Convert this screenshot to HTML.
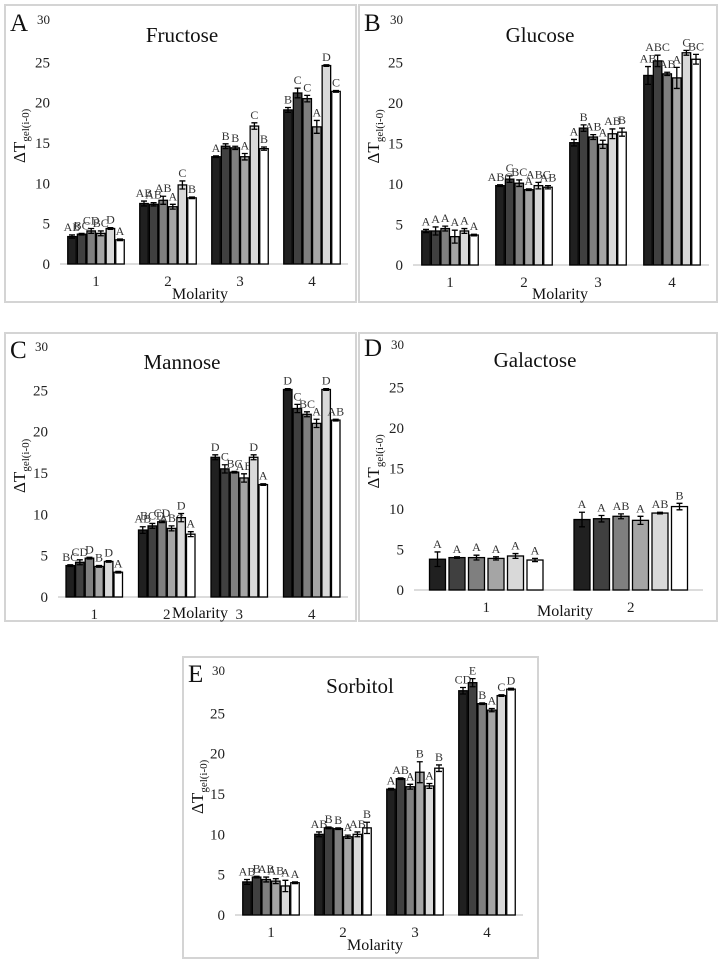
<!DOCTYPE html>
<html><head><meta charset="utf-8">
<style>
html,body{margin:0;padding:0;background:#fff;}
svg{display:block;font-family:"Liberation Serif",serif;}
</style></head>
<body>
<svg id="fig" width="721" height="963" viewBox="0 0 721 963" xmlns="http://www.w3.org/2000/svg"></svg>
<script>
const molarityA = ["1","2","3","4"];
const fructoseVals = [[3.4,3.7,4.1,3.8,4.4,3.0],[7.5,7.4,7.9,7.1,9.8,8.2],[13.3,14.6,14.4,13.3,17.1,14.3],[19.1,21.2,20.5,17.0,24.6,21.4]];
const fructoseErr = [[0.2,0.1,0.3,0.3,0.1,0.1],[0.3,0.2,0.5,0.3,0.5,0.1],[0.1,0.3,0.2,0.4,0.4,0.2],[0.3,0.6,0.4,0.8,0.1,0.1]];
const fructoseLbl = [["AB","BC","CD","BC","D","A"],["AB","AB","AB","A","C","B"],["A","B","B","A","C","B"],["B","C","C","A","D","C"]];
const glucoseVals = [[4.2,4.2,4.5,3.5,4.2,3.7],[9.8,10.6,10.1,9.3,9.8,9.6],[15.1,16.9,15.8,14.9,16.2,16.4],[23.4,25.2,23.6,23.1,26.2,25.4]];
const glucoseErr = [[0.2,0.5,0.3,0.8,0.3,0.1],[0.1,0.4,0.4,0.1,0.4,0.2],[0.4,0.4,0.3,0.5,0.6,0.5],[1.1,0.7,0.2,1.3,0.3,0.6]];
const glucoseLbl = [["A","A","A","A","A","A"],["ABC","C","BC","A","ABC","AB"],["A","B","AB","A","AB","B"],["AB","ABC","AB","A","C","BC"]];
const mannoseVals = [[3.8,4.2,4.7,3.7,4.3,3.0],[8.1,8.6,9.1,8.3,9.6,7.6],[16.9,15.5,15.1,14.4,16.9,13.6],[25.1,22.8,22.1,21.0,25.1,21.4]];
const mannoseErr = [[0.1,0.3,0.1,0.1,0.1,0.1],[0.4,0.3,0.1,0.3,0.5,0.3],[0.3,0.5,0.1,0.5,0.3,0.1],[0.1,0.5,0.3,0.5,0.1,0.1]];
const mannoseLbl = [["BC","CD","D","B","D","A"],["AB","BCD","CD","ABC","D","A"],["D","C","BC","AB","D","A"],["D","C","BC","A","D","AB"]];
const molarityD = ["1","2"];
const galactoseVals = [[3.8,4.0,4.0,3.9,4.2,3.7],[8.7,8.8,9.1,8.6,9.5,10.3]];
const galactoseErr = [[0.9,0.1,0.3,0.2,0.3,0.2],[0.9,0.4,0.3,0.5,0.1,0.4]];
const galactoseLbl = [["A","A","A","A","A","A"],["A","A","AB","A","AB","B"]];
const sorbitolVals = [[4.1,4.7,4.4,4.2,3.6,4.0],[10.0,10.8,10.7,9.7,10.0,10.8],[15.6,16.9,15.9,17.7,16.0,18.2],[27.8,28.8,26.2,25.4,27.2,28.0]];
const sorbitolErr = [[0.3,0.1,0.3,0.3,0.7,0.1],[0.3,0.1,0.1,0.2,0.3,0.7],[0.1,0.1,0.3,1.3,0.3,0.4],[0.4,0.5,0.1,0.2,0.1,0.1]];
const sorbitolLbl = [["AB","B","AB","AB","A","A"],["AB","B","B","A","AB","B"],["A","AB","A","B","A","B"],["CD","E","B","A","C","D"]];
const yTicks = [0,5,10,15,20,25,30];
const fills = ["#202020","#404040","#7f7f7f","#a5a5a5","#d9d9d9","#ffffff"];

const NS="http://www.w3.org/2000/svg";
const svg=document.getElementById('fig');
function mk(tag,attrs,parent,text){const e=document.createElementNS(NS,tag);for(const k in attrs)e.setAttribute(k,attrs[k]);if(text!==undefined)e.textContent=text;(parent||svg).appendChild(e);return e;}

function panel(cfg,cats,vals,errs,lbls){
  const g=mk('g',{});
  
  
  const box=mk('rect',{x:cfg.box[0],y:cfg.box[1],width:cfg.box[2],height:cfg.box[3],fill:'#fff',stroke:'#d4d4d4','stroke-width':2},g);
  
  
  const yS=v=>cfg.y0-(cfg.y0-cfg.y30)*v/30;
  const gw=(cfg.x1-cfg.x0)/cats.length;
  const xC=i=>cfg.x0+gw*(i+0.5);
  yTicks.forEach(t=>{
    const tl=mk('text',{x:cfg.x0-10,y:yS(t)+5,'text-anchor':'end','font-size':(t===30?13:15),fill:'#222'},g,String(t));
    if(t===30) tl.setAttribute('y',yS(t)+2);
    
    
  });
  const ax=mk('line',{x1:cfg.x0,x2:cfg.x1,y1:cfg.y0,y2:cfg.y0,stroke:'#d0d0d0','stroke-width':1.5},g);
  
  
  cats.forEach((c,i)=>{
    const tl=mk('text',{x:xC(i),y:cfg.y0+22,'text-anchor':'middle','font-size':15,fill:'#222'},g,c);
    
    
    vals[i].forEach((v,j)=>{
      const bx=xC(i)+(j-2.5)*cfg.pitch-cfg.bw/2;
      const r=mk('rect',{x:bx,y:yS(v),width:cfg.bw,height:cfg.y0-yS(v),fill:fills[j],stroke:'#000','stroke-width':1.3},g);
      
      
      const e=errs[i][j], cx=bx+cfg.bw/2;
      const eg=mk('path',{d:`M${cx} ${yS(v+e)}V${yS(v-e)}M${cx-3} ${yS(v+e)}H${cx+3}M${cx-3} ${yS(v-e)}H${cx+3}`,stroke:'#000','stroke-width':1.3,fill:'none'},g);
      
      
      const lt=mk('text',{x:cx,y:yS(v+e)-4,'text-anchor':'middle','font-size':cfg.lf,fill:'#333'},g,lbls[i][j]);
      
      
    });
  });
  const L=mk('text',{x:cfg.box[0]+5,y:cfg.y30+9,'font-size':25,fill:'#111'},g,cfg.letter);
  
  
  const T=mk('text',{x:cfg.tx,y:cfg.y30+20,'text-anchor':'middle','font-size':21,fill:'#111'},g,cfg.title);
  
  
  const M=mk('text',{x:cfg.mx,y:cfg.my,'text-anchor':'middle','font-size':16,fill:'#111'},g,'Molarity');
  
  
  const yt=mk('text',{transform:`translate(${cfg.box[0]+20},${(cfg.y0+cfg.y30)/2+20}) rotate(-90)`,'font-size':17,fill:'#111'},g);
  
  
  mk('tspan',{},yt,'ΔT');
  mk('tspan',{'font-size':11,dy:4},yt,'gel(i-0)');
}

panel({name:'fructose',box:[5,5,351,297],x0:60,x1:348,y0:264,y30:22,pitch:9.6,bw:8.5,lf:12,letter:'A',title:'Fructose',tx:182,mx:200,my:299},molarityA,fructoseVals,fructoseErr,fructoseLbl);
panel({name:'glucose',box:[359,5,358,297],x0:413,x1:709,y0:265,y30:22,pitch:9.6,bw:8.5,lf:12,letter:'B',title:'Glucose',tx:540,mx:560,my:299},molarityA,glucoseVals,glucoseErr,glucoseLbl);
panel({name:'mannose',box:[5,333,351,288],x0:58,x1:348,y0:597,y30:349,pitch:9.6,bw:8.5,lf:12,letter:'C',title:'Mannose',tx:182,mx:200,my:618},molarityA,mannoseVals,mannoseErr,mannoseLbl);
panel({name:'galactose',box:[359,333,358,288],x0:414,x1:703,y0:590,y30:347,pitch:19.5,bw:16,lf:12,letter:'D',title:'Galactose',tx:535,mx:565,my:616},molarityD,galactoseVals,galactoseErr,galactoseLbl);
panel({name:'sorbitol',box:[183,657,355,301],x0:235,x1:523,y0:915,y30:673,pitch:9.6,bw:8.5,lf:12,letter:'E',title:'Sorbitol',tx:360,mx:375,my:950},molarityA,sorbitolVals,sorbitolErr,sorbitolLbl);
</script>
</body></html>
